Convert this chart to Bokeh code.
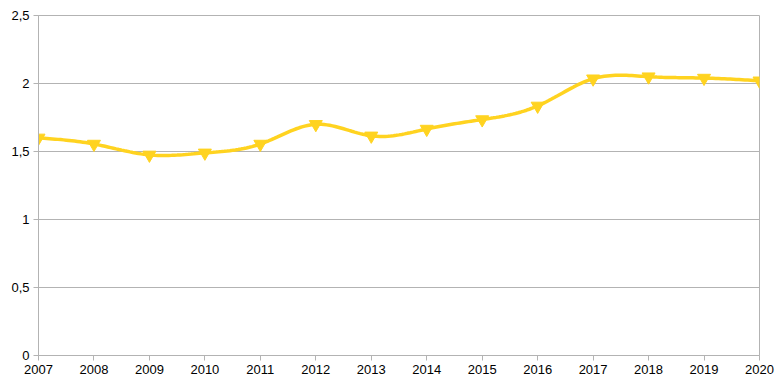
import numpy as np
from bokeh.plotting import figure
from bokeh.models import Range1d, FixedTicker
from bokeh.embed import file_html
from bokeh.resources import INLINE

years = [2007, 2008, 2009, 2010, 2011, 2012, 2013, 2014, 2015, 2016, 2017, 2018, 2019, 2020]
values = [1.60, 1.555, 1.475, 1.49, 1.555, 1.70, 1.615, 1.665, 1.735, 1.835, 2.035, 2.05, 2.04, 2.02]
y_ticks = [0, 0.5, 1, 1.5, 2, 2.5]
y_labels = ["0", "0,5", "1", "1,5", "2", "2,5"]


def natural_spline(x, y, n=20):
    x = np.asarray(x, float)
    y = np.asarray(y, float)
    m = len(x)
    h = np.diff(x)
    A = np.zeros((m, m))
    b = np.zeros(m)
    A[0, 0] = 1
    A[-1, -1] = 1
    for i in range(1, m - 1):
        A[i, i - 1] = h[i - 1]
        A[i, i] = 2 * (h[i - 1] + h[i])
        A[i, i + 1] = h[i]
        b[i] = 6 * ((y[i + 1] - y[i]) / h[i] - (y[i] - y[i - 1]) / h[i - 1])
    M = np.linalg.solve(A, b)
    xs, ys = [], []
    for i in range(m - 1):
        t = np.linspace(x[i], x[i + 1], n, endpoint=(i == m - 2))
        a = x[i + 1] - t
        c = t - x[i]
        s = (M[i] * a ** 3 + M[i + 1] * c ** 3) / (6 * h[i]) \
            + (y[i] / h[i] - M[i] * h[i] / 6) * a + (y[i + 1] / h[i] - M[i + 1] * h[i] / 6) * c
        xs.extend(t)
        ys.extend(s)
    return xs, ys


p = figure(width=780, height=388, output_backend="svg", toolbar_location=None,
           x_range=Range1d(2007, 2020), y_range=Range1d(0, 2.5),
           min_border_left=38, min_border_right=21, min_border_top=15, min_border_bottom=33)

grid_col = "#b3b3b3"
p.outline_line_color = grid_col
p.xgrid.grid_line_color = None
p.ygrid.grid_line_color = grid_col
p.ygrid.ticker = FixedTicker(ticks=y_ticks)

p.xaxis.ticker = FixedTicker(ticks=years)
p.yaxis.ticker = FixedTicker(ticks=y_ticks)
p.yaxis.major_label_overrides = {t: l for t, l in zip(y_ticks, y_labels)}
for ax in (p.xaxis, p.yaxis):
    ax.axis_line_color = grid_col
    ax.major_tick_line_color = grid_col
    ax.minor_tick_line_color = None
    ax.major_tick_in = 0
    ax.major_tick_out = 5
    ax.major_label_text_font = "Liberation Sans"
    ax.major_label_text_font_size = "13px"
    ax.major_label_text_color = "#000000"
    ax.major_label_standoff = 4

sx, sy = natural_spline(years, values)
color = "#ffd320"
p.line(sx, sy, line_color=color, line_width=3.5)
p.scatter(years, values, marker="inverted_triangle", size=13, fill_color=color, line_color=color)

open("out.html", "w").write(file_html(p, INLINE))
